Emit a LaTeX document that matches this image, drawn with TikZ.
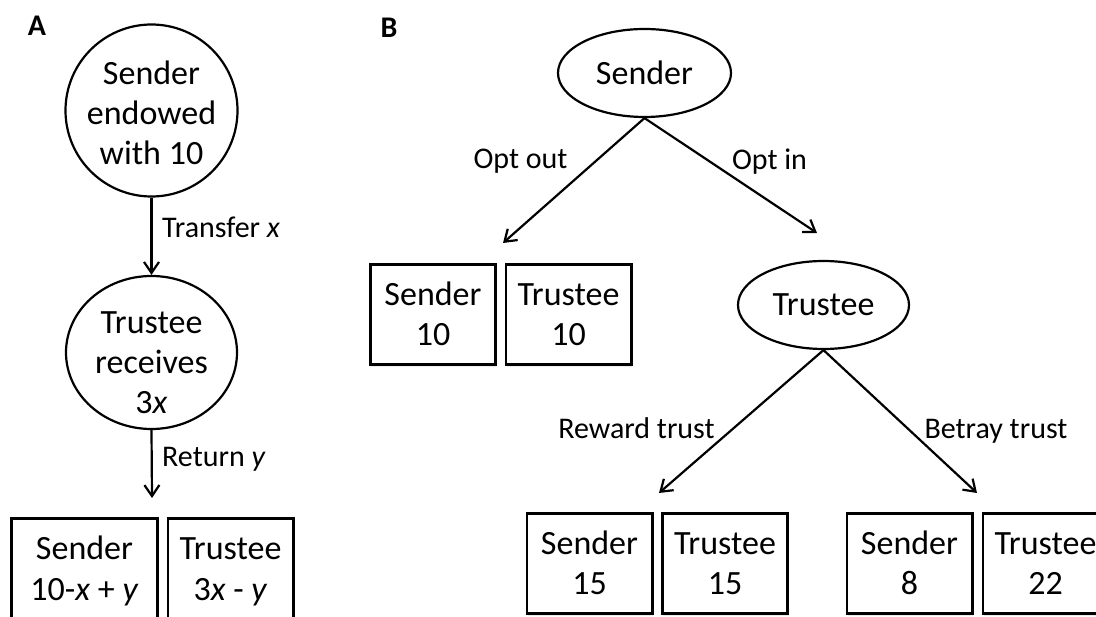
\documentclass[tikz,border=0pt]{standalone}
\usepackage{fontspec}
\setmainfont{Carlito}
\usetikzlibrary{shapes.geometric,arrows.meta,shadows}

% fixed line height so every payoff box sets its two lines at the same place
\newcommand\boxstrut{\rule[-6pt]{0pt}{34pt}}

\tikzset{
  base/.style={font=\fontsize{34}{40}\selectfont, align=center, inner sep=0pt},
  roundnode/.style={draw, line width=2.2pt, circle, minimum size=172pt, inner sep=0pt},
  ovalnode/.style={base, draw, line width=2.2pt, ellipse, minimum width=173pt, minimum height=88pt},
  payoff/.style={base, draw, fill=white, line width=2.6pt, rectangle,
    minimum width=125.4pt, minimum height=100.4pt,
    drop shadow={shadow xshift=1pt, shadow yshift=-2.5pt, fill=black, opacity=0.08}},
  edgelabel/.style={font=\fontsize{30}{36}\selectfont, inner sep=0pt,
    text height=25pt, text depth=6pt},
  panel/.style={font=\fontsize{30}{32}\selectfont\bfseries, inner sep=0pt},
  move/.style={line width=2.2pt, -{Straight Barb[length=11pt,width=15pt]}},
}

\begin{document}
\begin{tikzpicture}[x=1pt, y=-1pt]
  \useasboundingbox (0,0) rectangle (1096,617);
  \clip (0,0) rectangle (1096,617);

  % ---------- Panel A: the continuous trust game ----------
  \node[panel] (labA) at (37,26) {A};

  \node[roundnode] (senderA) at (151.5,110.5) {};
  \node[base] (senderAtext) at (151.5,113) {Sender\\endowed\\with 10};

  \node[draw, line width=2.2pt, ellipse, minimum width=171pt, minimum height=153pt, inner sep=0pt]
    (trusteeA) at (151.5,352.5) {};
  \node[base] (trusteeAtext) at (151.5,363) {Trustee\\receives\\3\textit{x}};

  \coordinate (returnEnd) at (152,498);

  \draw[move] (senderA.south) -- (trusteeA.north);
  \node[edgelabel, anchor=west] (transferLab) at (162,228) {Transfer \textit{x}};

  \draw[move] (trusteeA.south) -- (returnEnd);
  \node[edgelabel, anchor=west] (returnLab) at (162,457) {Return \textit{y}};

  \node[payoff, minimum width=146.4pt] (payA1) at (84.5,569) {\boxstrut Sender\\\boxstrut 10-\textit{x} + \textit{y}};
  \node[payoff] (payA2) at (230.5,569) {\boxstrut Trustee\\\boxstrut 3\textit{x} - \textit{y}};

  % ---------- Panel B: the binary trust game ----------
  \node[panel] (labB) at (389,28) {B};

  \node[ovalnode] (senderB) at (644.5,73) {Sender};
  \node[ovalnode, minimum width=171pt] (trusteeB) at (823.5,305) {Trustee};

  \coordinate (optOutEnd) at (503,243);
  \coordinate (optInEnd) at (817,233);
  \coordinate (rewardEnd) at (659,493);
  \coordinate (betrayEnd) at (977,493);

  \draw[move] (senderB.south) -- (optOutEnd);
  \draw[move] (senderB.south) -- (optInEnd);
  \node[edgelabel] (optOutLab) at (520.5,159) {Opt out};
  \node[edgelabel] (optInLab) at (769.5,160) {Opt in};

  \node[payoff] (outS) at (433,314.5) {\boxstrut Sender\\\boxstrut 10};
  \node[payoff] (outT) at (568.5,314.5) {\boxstrut Trustee\\\boxstrut 10};

  \draw[move] (trusteeB.south) -- (rewardEnd);
  \draw[move] (trusteeB.south) -- (betrayEnd);
  \node[edgelabel] (rewardLab) at (636.5,429) {Reward trust};
  \node[edgelabel] (betrayLab) at (996,429) {Betray trust};

  \node[payoff] (rewS) at (589.5,563.5) {\boxstrut Sender\\\boxstrut 15};
  \node[payoff] (rewT) at (725,563.5) {\boxstrut Trustee\\\boxstrut 15};
  \node[payoff] (betS) at (909.5,563.5) {\boxstrut Sender\\\boxstrut 8};
  \node[payoff] (betT) at (1045.5,563.5) {\boxstrut Trustee\\\boxstrut 22};
\end{tikzpicture}
\end{document}
